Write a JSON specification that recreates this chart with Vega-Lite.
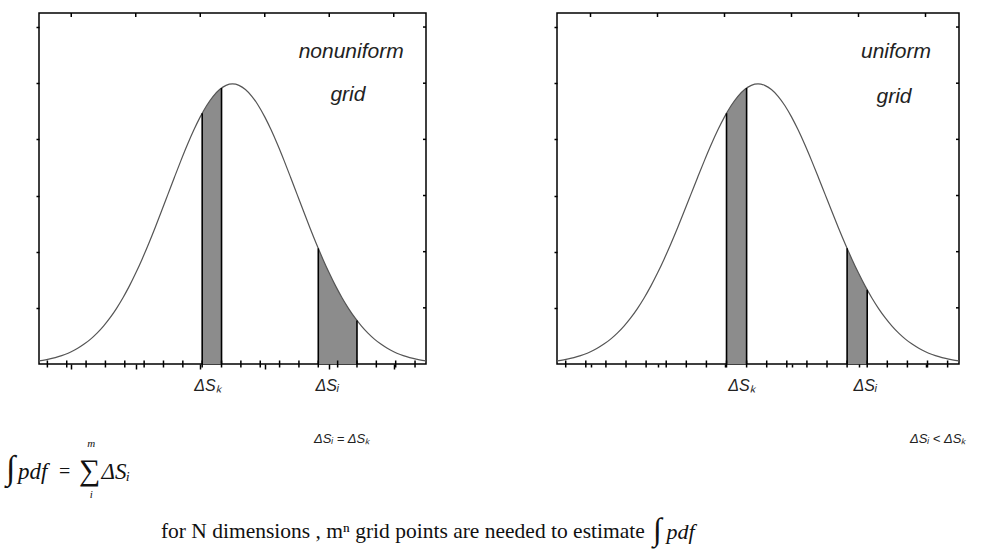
{
  "$schema": "https://vega.github.io/schema/vega-lite/v6.json",
  "background": "white",
  "padding": {"left": 5, "top": 9, "right": 5, "bottom": 5},
  "bounds": "flush",
  "spacing": 131,
  "datasets": {
    "curve": [
      {"x": -3.0, "y": 0.00443}, {"x": -2.9, "y": 0.00595}, {"x": -2.8, "y": 0.00792}, {"x": -2.7, "y": 0.01042},
      {"x": -2.6, "y": 0.01358}, {"x": -2.5, "y": 0.01753}, {"x": -2.4, "y": 0.02239}, {"x": -2.3, "y": 0.02833},
      {"x": -2.2, "y": 0.03547}, {"x": -2.1, "y": 0.04398}, {"x": -2.0, "y": 0.05399}, {"x": -1.9, "y": 0.06562},
      {"x": -1.8, "y": 0.07895}, {"x": -1.7, "y": 0.09405}, {"x": -1.6, "y": 0.11092}, {"x": -1.5, "y": 0.12952},
      {"x": -1.4, "y": 0.14973}, {"x": -1.3, "y": 0.17137}, {"x": -1.2, "y": 0.19419}, {"x": -1.1, "y": 0.21785},
      {"x": -1.0, "y": 0.24197}, {"x": -0.9, "y": 0.26609}, {"x": -0.8, "y": 0.28969}, {"x": -0.7, "y": 0.31225},
      {"x": -0.6, "y": 0.33322}, {"x": -0.5, "y": 0.35207}, {"x": -0.4, "y": 0.36827}, {"x": -0.3, "y": 0.38139},
      {"x": -0.2, "y": 0.39104}, {"x": -0.1, "y": 0.39695}, {"x": 0.0, "y": 0.39894}, {"x": 0.1, "y": 0.39695},
      {"x": 0.2, "y": 0.39104}, {"x": 0.3, "y": 0.38139}, {"x": 0.4, "y": 0.36827}, {"x": 0.5, "y": 0.35207},
      {"x": 0.6, "y": 0.33322}, {"x": 0.7, "y": 0.31225}, {"x": 0.8, "y": 0.28969}, {"x": 0.9, "y": 0.26609},
      {"x": 1.0, "y": 0.24197}, {"x": 1.1, "y": 0.21785}, {"x": 1.2, "y": 0.19419}, {"x": 1.3, "y": 0.17137},
      {"x": 1.4, "y": 0.14973}, {"x": 1.5, "y": 0.12952}, {"x": 1.6, "y": 0.11092}, {"x": 1.7, "y": 0.09405},
      {"x": 1.8, "y": 0.07895}, {"x": 1.9, "y": 0.06562}, {"x": 2.0, "y": 0.05399}, {"x": 2.1, "y": 0.04398},
      {"x": 2.2, "y": 0.03547}, {"x": 2.3, "y": 0.02833}, {"x": 2.4, "y": 0.02239}, {"x": 2.5, "y": 0.01753},
      {"x": 2.6, "y": 0.01358}, {"x": 2.7, "y": 0.01042}, {"x": 2.8, "y": 0.00792}, {"x": 2.9, "y": 0.00595},
      {"x": 3.0, "y": 0.00443}
    ],
    "shadeNonuniform": [
      {"seg": "k", "x": -0.47, "y": 0.35722}, {"seg": "k", "x": -0.4, "y": 0.36827}, {"seg": "k", "x": -0.3, "y": 0.38139},
      {"seg": "k", "x": -0.2, "y": 0.39104}, {"seg": "k", "x": -0.17, "y": 0.39322},
      {"seg": "i", "x": 1.33, "y": 0.16474}, {"seg": "i", "x": 1.4, "y": 0.14973}, {"seg": "i", "x": 1.5, "y": 0.12952},
      {"seg": "i", "x": 1.6, "y": 0.11092}, {"seg": "i", "x": 1.7, "y": 0.09405}, {"seg": "i", "x": 1.8, "y": 0.07895},
      {"seg": "i", "x": 1.9, "y": 0.06562}, {"seg": "i", "x": 1.93, "y": 0.06195}
    ],
    "shadeUniform": [
      {"seg": "k", "x": -0.47, "y": 0.35722}, {"seg": "k", "x": -0.4, "y": 0.36827}, {"seg": "k", "x": -0.3, "y": 0.38139},
      {"seg": "k", "x": -0.2, "y": 0.39104}, {"seg": "k", "x": -0.17, "y": 0.39322},
      {"seg": "i", "x": 1.33, "y": 0.16474}, {"seg": "i", "x": 1.4, "y": 0.14973}, {"seg": "i", "x": 1.5, "y": 0.12952},
      {"seg": "i", "x": 1.6, "y": 0.11092}, {"seg": "i", "x": 1.63, "y": 0.10568}
    ],
    "edgesNonuniform": [
      {"x": -0.47, "y": 0.35722}, {"x": -0.17, "y": 0.39322}, {"x": 1.33, "y": 0.16474}, {"x": 1.93, "y": 0.06195}
    ],
    "edgesUniform": [
      {"x": -0.47, "y": 0.35722}, {"x": -0.17, "y": 0.39322}, {"x": 1.33, "y": 0.16474}, {"x": 1.63, "y": 0.10568}
    ],
    "gridPoints": [
      {"x": -2.87, "y": 0}, {"x": -2.57, "y": 0}, {"x": -2.27, "y": 0}, {"x": -1.97, "y": 0}, {"x": -1.67, "y": 0},
      {"x": -1.37, "y": 0}, {"x": -1.07, "y": 0}, {"x": -0.77, "y": 0}, {"x": -0.47, "y": 0}, {"x": -0.17, "y": 0},
      {"x": 0.13, "y": 0}, {"x": 0.43, "y": 0}, {"x": 0.73, "y": 0}, {"x": 1.03, "y": 0}, {"x": 1.33, "y": 0},
      {"x": 1.63, "y": 0}, {"x": 1.93, "y": 0}, {"x": 2.23, "y": 0}, {"x": 2.53, "y": 0}, {"x": 2.83, "y": 0}
    ],
    "topTicks": [
      {"x": -2.5, "y": 0.5}, {"x": -1.5, "y": 0.5}, {"x": -0.5, "y": 0.5},
      {"x": 0.5, "y": 0.5}, {"x": 1.5, "y": 0.5}, {"x": 2.5, "y": 0.5}
    ],
    "rightTicks": [
      {"x": 3, "y": 0.08}, {"x": 3, "y": 0.16}, {"x": 3, "y": 0.24},
      {"x": 3, "y": 0.32}, {"x": 3, "y": 0.4}, {"x": 3, "y": 0.48}
    ]
  },
  "hconcat": [
    {
      "width": 387,
      "height": 351,
      "encoding": {
        "x": {
          "field": "x", "type": "quantitative",
          "scale": {"domain": [-3, 3], "nice": false, "zero": false},
          "axis": {"values": [-2.5, -1.5, -0.5, 0.5, 1.5, 2.5], "labels": false, "domain": false, "grid": false,
                   "tickSize": 5, "tickWidth": 1.5, "tickColor": "#000", "title": null}
        },
        "y": {
          "field": "y", "type": "quantitative",
          "scale": {"domain": [0, 0.5], "nice": false},
          "axis": {"values": [0.08, 0.16, 0.24, 0.32, 0.4, 0.48], "labels": false, "domain": false, "grid": false,
                   "tickSize": 3, "tickWidth": 1.5, "tickColor": "#000", "title": null}
        }
      },
      "layer": [
        {"data": {"name": "shadeNonuniform"}, "mark": {"type": "area", "color": "#8c8c8c", "opacity": 1},
         "encoding": {"y": {"field": "y", "type": "quantitative", "stack": null}, "detail": {"field": "seg"}}},
        {"data": {"name": "curve"}, "mark": {"type": "line", "color": "#555555", "strokeWidth": 1.2, "interpolate": "monotone"},
         "encoding": {}},
        {"data": {"name": "edgesNonuniform"}, "mark": {"type": "rule", "color": "#000", "strokeWidth": 1.6},
         "encoding": {"y2": {"datum": 0}}},
        {"data": {"name": "gridPoints"}, "mark": {"type": "point", "shape": "M0,-1V1", "size": 49, "filled": false,
         "color": "#000", "strokeWidth": 1.5, "opacity": 1}},
        {"data": {"name": "topTicks"}, "mark": {"type": "point", "shape": "M0,0V1", "size": 64, "filled": false,
         "color": "#000", "strokeWidth": 1.5, "opacity": 1}},
        {"data": {"name": "rightTicks"}, "mark": {"type": "point", "shape": "M0,0H-1", "size": 36, "filled": false,
         "color": "#000", "strokeWidth": 1.5, "opacity": 1}},
        {"data": {"values": [{"t": "nonuniform", "x": 1.84, "y": 0.444}, {"t": "grid", "x": 1.79, "y": 0.383}]},
         "mark": {"type": "text", "font": "Liberation Sans", "fontStyle": "italic", "fontSize": 21, "color": "#222",
                  "align": "center", "baseline": "middle"},
         "encoding": {"text": {"field": "t"}}},
        {"data": {"values": [{"t": "ΔSₖ", "x": -0.38, "y": -0.032}, {"t": "ΔSᵢ", "x": 1.47, "y": -0.032}]},
         "mark": {"type": "text", "font": "Liberation Sans", "fontStyle": "italic", "fontSize": 16, "color": "#222",
                  "align": "center", "baseline": "middle"},
         "encoding": {"text": {"field": "t"}}},
        {"data": {"values": [{"t": "ΔSᵢ = ΔSₖ", "x": 1.70, "y": -0.107}]},
         "mark": {"type": "text", "font": "Liberation Sans", "fontStyle": "italic", "fontSize": 13, "color": "#222",
                  "align": "center", "baseline": "middle"},
         "encoding": {"text": {"field": "t"}}},
        {"data": {"values": [{"t": "∫", "x": -3.512, "y": -0.150}]},
         "mark": {"type": "text", "font": "Liberation Serif", "fontSize": 34, "color": "#111",
                  "align": "left", "baseline": "middle"},
         "encoding": {"text": {"field": "t"}}},
        {"data": {"values": [{"t": "∑", "x": -2.380, "y": -0.153}]},
         "mark": {"type": "text", "font": "Liberation Serif", "fontSize": 30, "color": "#111",
                  "align": "left", "baseline": "middle"},
         "encoding": {"text": {"field": "t"}}},
        {"data": {"values": [{"t": "pdf", "x": -3.326, "y": -0.154}, {"t": "ΔSᵢ", "x": -2.030, "y": -0.154}]},
         "mark": {"type": "text", "font": "Liberation Serif", "fontStyle": "italic", "fontSize": 23, "color": "#111",
                  "align": "left", "baseline": "middle"},
         "encoding": {"text": {"field": "t"}}},
        {"data": {"values": [{"t": "=", "x": -2.690, "y": -0.154}]},
         "mark": {"type": "text", "font": "Liberation Serif", "fontSize": 20, "color": "#111",
                  "align": "left", "baseline": "middle"},
         "encoding": {"text": {"field": "t"}}},
        {"data": {"values": [{"t": "m", "x": -2.190, "y": -0.114}, {"t": "i", "x": -2.190, "y": -0.187}]},
         "mark": {"type": "text", "font": "Liberation Serif", "fontStyle": "italic", "fontSize": 11, "color": "#111",
                  "align": "center", "baseline": "middle"},
         "encoding": {"text": {"field": "t"}}},
        {"data": {"values": [{"t": "for N dimensions , mⁿ grid points are needed to estimate", "x": -1.11, "y": -0.239}]},
         "mark": {"type": "text", "font": "Liberation Serif", "fontSize": 21.5, "color": "#111",
                  "align": "left", "baseline": "middle"},
         "encoding": {"text": {"field": "t"}}},
        {"data": {"values": [{"t": "∫", "x": 6.52, "y": -0.236}]},
         "mark": {"type": "text", "font": "Liberation Serif", "fontSize": 32, "color": "#111",
                  "align": "left", "baseline": "middle"},
         "encoding": {"text": {"field": "t"}}},
        {"data": {"values": [{"t": "pdf", "x": 6.73, "y": -0.239}]},
         "mark": {"type": "text", "font": "Liberation Serif", "fontStyle": "italic", "fontSize": 22, "color": "#111",
                  "align": "left", "baseline": "middle"},
         "encoding": {"text": {"field": "t"}}}
      ]
    },
    {
      "width": 402,
      "height": 351,
      "encoding": {
        "x": {
          "field": "x", "type": "quantitative",
          "scale": {"domain": [-3, 3], "nice": false, "zero": false},
          "axis": {"values": [-2.5, -1.5, -0.5, 0.5, 1.5, 2.5], "labels": false, "domain": false, "grid": false,
                   "tickSize": 3, "tickWidth": 1.5, "tickColor": "#000", "title": null}
        },
        "y": {
          "field": "y", "type": "quantitative",
          "scale": {"domain": [0, 0.5], "nice": false},
          "axis": {"values": [0.08, 0.16, 0.24, 0.32, 0.4, 0.48], "labels": false, "domain": false, "grid": false,
                   "tickSize": 3, "tickWidth": 1.5, "tickColor": "#000", "title": null}
        }
      },
      "layer": [
        {"data": {"name": "shadeUniform"}, "mark": {"type": "area", "color": "#8c8c8c", "opacity": 1},
         "encoding": {"y": {"field": "y", "type": "quantitative", "stack": null}, "detail": {"field": "seg"}}},
        {"data": {"name": "curve"}, "mark": {"type": "line", "color": "#555555", "strokeWidth": 1.2, "interpolate": "monotone"},
         "encoding": {}},
        {"data": {"name": "edgesUniform"}, "mark": {"type": "rule", "color": "#000", "strokeWidth": 1.6},
         "encoding": {"y2": {"datum": 0}}},
        {"data": {"name": "gridPoints"}, "mark": {"type": "point", "shape": "M0,-1V1", "size": 49, "filled": false,
         "color": "#000", "strokeWidth": 1.5, "opacity": 1}},
        {"data": {"name": "topTicks"}, "mark": {"type": "point", "shape": "M0,0V1", "size": 64, "filled": false,
         "color": "#000", "strokeWidth": 1.5, "opacity": 1}},
        {"data": {"name": "rightTicks"}, "mark": {"type": "point", "shape": "M0,0H-1", "size": 36, "filled": false,
         "color": "#000", "strokeWidth": 1.5, "opacity": 1}},
        {"data": {"values": [{"t": "uniform", "x": 2.06, "y": 0.444}, {"t": "grid", "x": 2.03, "y": 0.380}]},
         "mark": {"type": "text", "font": "Liberation Sans", "fontStyle": "italic", "fontSize": 21, "color": "#222",
                  "align": "center", "baseline": "middle"},
         "encoding": {"text": {"field": "t"}}},
        {"data": {"values": [{"t": "ΔSₖ", "x": -0.24, "y": -0.032}, {"t": "ΔSᵢ", "x": 1.60, "y": -0.032}]},
         "mark": {"type": "text", "font": "Liberation Sans", "fontStyle": "italic", "fontSize": 16, "color": "#222",
                  "align": "center", "baseline": "middle"},
         "encoding": {"text": {"field": "t"}}},
        {"data": {"values": [{"t": "ΔSᵢ < ΔSₖ", "x": 2.69, "y": -0.107}]},
         "mark": {"type": "text", "font": "Liberation Sans", "fontStyle": "italic", "fontSize": 13, "color": "#222",
                  "align": "center", "baseline": "middle"},
         "encoding": {"text": {"field": "t"}}}
      ]
    }
  ],
  "config": {
    "view": {"stroke": "#000", "strokeWidth": 1.5}
  }
}
